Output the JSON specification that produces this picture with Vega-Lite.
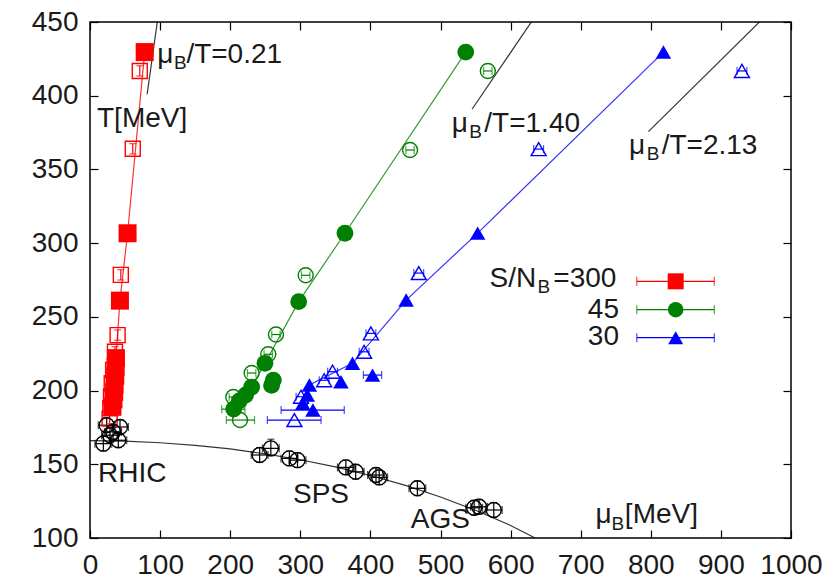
{
  "$schema": "https://vega.github.io/schema/vega-lite/v6.json",
  "width": 701,
  "height": 516,
  "autosize": {"type": "none"},
  "padding": {"left": 90, "top": 22, "right": 43, "bottom": 45},
  "background": "white",
  "config": {
    "view": {"stroke": "#000000", "strokeWidth": 1.5},
    "axis": {
      "grid": false,
      "domain": false,
      "labelFont": "Liberation Sans",
      "labelFontSize": 28,
      "labelColor": "#1a1a1a",
      "labelFlush": false,
      "labelOverlap": false,
      "format": "d",
      "tickColor": "#000000",
      "tickSize": -8,
      "tickWidth": 1.2
    },
    "text": {"font": "Liberation Sans", "color": "#1a1a1a"}
  },
  "datasets": {
    "pts": [
      {"set": "S300", "kind": "filled", "mu": 78, "T": 429.6},
      {"set": "S300", "kind": "filled", "mu": 53.6, "T": 306.7},
      {"set": "S300", "kind": "filled", "mu": 42.7, "T": 261},
      {"set": "S300", "kind": "filled", "mu": 37, "T": 222},
      {"set": "S300", "kind": "filled", "mu": 36.5, "T": 216},
      {"set": "S300", "kind": "filled", "mu": 36, "T": 210},
      {"set": "S300", "kind": "filled", "mu": 35, "T": 204},
      {"set": "S300", "kind": "filled", "mu": 34.5, "T": 199},
      {"set": "S300", "kind": "filled", "mu": 33.5, "T": 194},
      {"set": "S300", "kind": "filled", "mu": 32, "T": 189},
      {"set": "S300", "kind": "open", "mu": 71, "T": 416.8, "Tlo": 413.3, "Thi": 420.3},
      {"set": "S300", "kind": "open", "mu": 61, "T": 364, "Tlo": 360.5, "Thi": 367.5},
      {"set": "S300", "kind": "open", "mu": 44, "T": 278.5, "Tlo": 275, "Thi": 282},
      {"set": "S300", "kind": "open", "mu": 39.4, "T": 237.6, "Tlo": 234.1, "Thi": 241.1},
      {"set": "S300", "kind": "open", "mu": 35.6, "T": 226.3, "Tlo": 222.8, "Thi": 229.8},
      {"set": "S300", "kind": "open", "mu": 33, "T": 214, "Tlo": 210.5, "Thi": 217.5},
      {"set": "S300", "kind": "open", "mu": 31, "T": 205, "Tlo": 201.5, "Thi": 208.5},
      {"set": "S300", "kind": "open", "mu": 30, "T": 196, "Tlo": 192.5, "Thi": 199.5},
      {"set": "S300", "kind": "open", "mu": 29, "T": 188, "Tlo": 184.5, "Thi": 191.5},
      {"set": "S300", "kind": "open", "mu": 28, "T": 181, "Tlo": 177.5, "Thi": 184.5},

      {"set": "S45", "kind": "filled", "mu": 536, "T": 429.6},
      {"set": "S45", "kind": "filled", "mu": 363.7, "T": 306.7},
      {"set": "S45", "kind": "filled", "mu": 297.7, "T": 260.3},
      {"set": "S45", "kind": "filled", "mu": 249.6, "T": 218.5},
      {"set": "S45", "kind": "filled", "mu": 261.5, "T": 207},
      {"set": "S45", "kind": "filled", "mu": 259, "T": 203.5},
      {"set": "S45", "kind": "filled", "mu": 230.6, "T": 202.4},
      {"set": "S45", "kind": "filled", "mu": 222, "T": 197},
      {"set": "S45", "kind": "filled", "mu": 213, "T": 193},
      {"set": "S45", "kind": "filled", "mu": 205, "T": 187.4, "mulo": 188, "muhi": 221},
      {"set": "S45", "kind": "open", "mu": 567.5, "T": 416.8, "mulo": 561.5, "muhi": 573.5},
      {"set": "S45", "kind": "open", "mu": 456.6, "T": 363.2, "mulo": 450.6, "muhi": 462.6},
      {"set": "S45", "kind": "open", "mu": 307.7, "T": 278.2, "mulo": 301.7, "muhi": 313.7},
      {"set": "S45", "kind": "open", "mu": 265.3, "T": 238, "mulo": 259.3, "muhi": 271.3},
      {"set": "S45", "kind": "open", "mu": 254.3, "T": 224.6, "mulo": 248.3, "muhi": 260.3},
      {"set": "S45", "kind": "open", "mu": 230.6, "T": 211.9, "mulo": 224.6, "muhi": 236.6},
      {"set": "S45", "kind": "open", "mu": 204.4, "T": 195.6, "mulo": 198.4, "muhi": 210.4},
      {"set": "S45", "kind": "open", "mu": 214, "T": 180, "mulo": 194.5, "muhi": 234.7},

      {"set": "S30", "kind": "filled", "mu": 818, "T": 429.6},
      {"set": "S30", "kind": "filled", "mu": 553, "T": 306.8},
      {"set": "S30", "kind": "filled", "mu": 451, "T": 261.4},
      {"set": "S30", "kind": "filled", "mu": 374.5, "T": 218.5},
      {"set": "S30", "kind": "filled", "mu": 403, "T": 210.5, "mulo": 390, "muhi": 416},
      {"set": "S30", "kind": "filled", "mu": 358, "T": 206},
      {"set": "S30", "kind": "filled", "mu": 313, "T": 203.8},
      {"set": "S30", "kind": "filled", "mu": 310, "T": 197},
      {"set": "S30", "kind": "filled", "mu": 303.5, "T": 191.4},
      {"set": "S30", "kind": "filled", "mu": 318, "T": 186.8, "mulo": 272.6, "muhi": 362.7},
      {"set": "S30", "kind": "open", "mu": 930, "T": 416.8, "mulo": 923, "muhi": 937},
      {"set": "S30", "kind": "open", "mu": 640, "T": 363.8, "mulo": 633, "muhi": 647},
      {"set": "S30", "kind": "open", "mu": 469, "T": 279.7, "mulo": 462, "muhi": 476},
      {"set": "S30", "kind": "open", "mu": 400.7, "T": 238.8, "mulo": 393.7, "muhi": 407.7},
      {"set": "S30", "kind": "open", "mu": 391, "T": 226.3, "mulo": 384, "muhi": 398},
      {"set": "S30", "kind": "open", "mu": 346, "T": 212.8, "mulo": 339, "muhi": 353},
      {"set": "S30", "kind": "open", "mu": 334, "T": 207, "mulo": 327, "muhi": 341},
      {"set": "S30", "kind": "open", "mu": 301, "T": 195.8, "mulo": 294, "muhi": 308},
      {"set": "S30", "kind": "open", "mu": 291.6, "T": 180, "mulo": 253, "muhi": 329.6},

      {"set": "FO", "kind": "open", "mu": 23.8, "T": 176.5, "mulo": 11.8, "muhi": 35.8, "Tlo": 171.5, "Thi": 181.5},
      {"set": "FO", "kind": "open", "mu": 42.8, "T": 175.3, "mulo": 30.8, "muhi": 54.8, "Tlo": 170.3, "Thi": 180.3},
      {"set": "FO", "kind": "open", "mu": 19, "T": 164, "mulo": 7, "muhi": 31, "Tlo": 159, "Thi": 169},
      {"set": "FO", "kind": "open", "mu": 28.5, "T": 169.7, "mulo": 16.5, "muhi": 40.5, "Tlo": 164.7, "Thi": 174.7},
      {"set": "FO", "kind": "open", "mu": 40.4, "T": 166.3, "mulo": 28.4, "muhi": 52.4, "Tlo": 161.3, "Thi": 171.3},
      {"set": "FO", "kind": "open", "mu": 33, "T": 172, "mulo": 21, "muhi": 45, "Tlo": 167, "Thi": 177},
      {"set": "FO", "kind": "open", "mu": 242, "T": 156.3, "mulo": 230, "muhi": 254, "Tlo": 151.3, "Thi": 161.3},
      {"set": "FO", "kind": "open", "mu": 258, "T": 160.8, "mulo": 246, "muhi": 270, "Tlo": 155.8, "Thi": 167},
      {"set": "FO", "kind": "open", "mu": 284.5, "T": 154, "mulo": 272.5, "muhi": 296.5, "Tlo": 149, "Thi": 159},
      {"set": "FO", "kind": "open", "mu": 296, "T": 152.8, "mulo": 284, "muhi": 308, "Tlo": 147.8, "Thi": 157.8},
      {"set": "FO", "kind": "open", "mu": 365, "T": 147.9, "mulo": 353, "muhi": 377, "Tlo": 142.9, "Thi": 152.9},
      {"set": "FO", "kind": "open", "mu": 379, "T": 144.9, "mulo": 367, "muhi": 391, "Tlo": 139.9, "Thi": 149.9},
      {"set": "FO", "kind": "open", "mu": 408, "T": 142.7, "mulo": 396, "muhi": 420, "Tlo": 137.7, "Thi": 147.7},
      {"set": "FO", "kind": "open", "mu": 412.5, "T": 141.1, "mulo": 400.5, "muhi": 424.5, "Tlo": 136.1, "Thi": 146.1},
      {"set": "FO", "kind": "open", "mu": 467, "T": 133.7, "mulo": 455, "muhi": 479, "Tlo": 128.7, "Thi": 138.7},
      {"set": "FO", "kind": "open", "mu": 548, "T": 120.5, "mulo": 536, "muhi": 560, "Tlo": 115.5, "Thi": 125.5},
      {"set": "FO", "kind": "open", "mu": 555, "T": 121.2, "mulo": 543, "muhi": 567, "Tlo": 116.2, "Thi": 126.2},
      {"set": "FO", "kind": "open", "mu": 576, "T": 119, "mulo": 564, "muhi": 588, "Tlo": 114, "Thi": 124}
    ],
    "paths": [
      {"set": "S300", "mu": 32, "T": 189},
      {"set": "S300", "mu": 33.5, "T": 194},
      {"set": "S300", "mu": 34.5, "T": 199},
      {"set": "S300", "mu": 35, "T": 204},
      {"set": "S300", "mu": 36, "T": 210},
      {"set": "S300", "mu": 36.5, "T": 216},
      {"set": "S300", "mu": 37, "T": 222},
      {"set": "S300", "mu": 42.7, "T": 261},
      {"set": "S300", "mu": 53.6, "T": 306.7},
      {"set": "S300", "mu": 78, "T": 429.6},
      {"set": "S45", "mu": 205, "T": 187.4},
      {"set": "S45", "mu": 213, "T": 193},
      {"set": "S45", "mu": 222, "T": 197},
      {"set": "S45", "mu": 230.6, "T": 202.4},
      {"set": "S45", "mu": 249.6, "T": 218.5},
      {"set": "S45", "mu": 297.7, "T": 260.3},
      {"set": "S45", "mu": 363.7, "T": 306.7},
      {"set": "S45", "mu": 536, "T": 429.6},
      {"set": "S30", "mu": 310, "T": 190},
      {"set": "S30", "mu": 313, "T": 203.8},
      {"set": "S30", "mu": 374.5, "T": 218.5},
      {"set": "S30", "mu": 451, "T": 261.4},
      {"set": "S30", "mu": 553, "T": 306.8},
      {"set": "S30", "mu": 818, "T": 429.6},
      {"set": "FO", "mu": 0, "T": 166},
      {"set": "FO", "mu": 50, "T": 165.7},
      {"set": "FO", "mu": 100, "T": 164.6},
      {"set": "FO", "mu": 150, "T": 162.8},
      {"set": "FO", "mu": 200, "T": 160.4},
      {"set": "FO", "mu": 250, "T": 157.1},
      {"set": "FO", "mu": 300, "T": 153.1},
      {"set": "FO", "mu": 350, "T": 148.2},
      {"set": "FO", "mu": 400, "T": 142.4},
      {"set": "FO", "mu": 450, "T": 135.7},
      {"set": "FO", "mu": 500, "T": 127.8},
      {"set": "FO", "mu": 550, "T": 118.8},
      {"set": "FO", "mu": 600, "T": 108.5},
      {"set": "FO", "mu": 635, "T": 100},
      {"set": "r021", "mu": 81.5, "T": 401},
      {"set": "r021", "mu": 96, "T": 450},
      {"set": "r140", "mu": 545, "T": 390.8},
      {"set": "r140", "mu": 631, "T": 451},
      {"set": "r213", "mu": 796.6, "T": 375.6},
      {"set": "r213", "mu": 956, "T": 450.5}
    ],
    "key": [
      {"set": "S300", "mu": 835.5, "T": 274.1, "lo": 780, "hi": 890.6},
      {"set": "S45", "mu": 835.5, "T": 254.9, "lo": 780, "hi": 890.6},
      {"set": "S30", "mu": 835.5, "T": 235.9, "lo": 780, "hi": 890.6}
    ],
    "notes": [
      {"mu": 96.0, "T": 422.0, "label": "μ"},
      {"mu": 137.5, "T": 422.0, "label": "/T=0.21"},
      {"mu": 10.0, "T": 378.6, "label": "T[MeV]"},
      {"mu": 516.0, "T": 375.4, "label": "μ"},
      {"mu": 562.5, "T": 375.4, "label": "/T=1.40"},
      {"mu": 768.9, "T": 360.7, "label": "μ"},
      {"mu": 815.5, "T": 360.7, "label": "/T=2.13"},
      {"mu": 11.4, "T": 138.0, "label": "RHIC"},
      {"mu": 289.6, "T": 123.7, "label": "SPS"},
      {"mu": 457.5, "T": 106.6, "label": "AGS"},
      {"mu": 721.0, "T": 110.2, "label": "μ"},
      {"mu": 763.0, "T": 110.2, "label": "[MeV]"},
      {"mu": 570.0, "T": 270.3, "label": "S/N"},
      {"mu": 661.0, "T": 270.3, "label": "=300"}
    ],
    "notesRight": [
      {"mu": 754.6, "T": 249.5, "label": "45"},
      {"mu": 754.6, "T": 230.7, "label": "30"}
    ],
    "subs": [
      {"mu": 120.0, "T": 417.9, "label": "B"},
      {"mu": 541.1, "T": 371.3, "label": "B"},
      {"mu": 794.2, "T": 356.7, "label": "B"},
      {"mu": 744.0, "T": 105.7, "label": "B"},
      {"mu": 638.5, "T": 266.0, "label": "B"}
    ]
  },
  "resolve": {"scale": {"size": "independent"}},
  "layer": [
    {
      "data": {"name": "paths"},
      "mark": {"type": "line", "strokeWidth": 1.2, "opacity": 0.8, "clip": true},
      "encoding": {
        "x": {"field": "mu", "type": "quantitative", "scale": {"domain": [0, 1000], "nice": false, "zero": false},
              "axis": {"orient": "bottom", "title": null, "values": [0, 100, 200, 300, 400, 500, 600, 700, 800, 900, 1000], "labelPadding": 21}},
        "y": {"field": "T", "type": "quantitative", "scale": {"domain": [100, 450], "nice": false, "zero": false},
              "axis": {"orient": "left", "title": null, "values": [100, 150, 200, 250, 300, 350, 400, 450], "labelPadding": 20}},
        "detail": {"field": "set"},
        "order": {"field": "T", "type": "quantitative"},
        "color": {"field": "set", "type": "nominal", "legend": null,
                  "scale": {"domain": ["S300", "S45", "S30", "FO", "r021", "r140", "r213"], "range": ["#ff0000", "#008000", "#0000ff", "#000000", "#000000", "#000000", "#000000"]}}
      }
    },
    {
      "data": {"name": "pts"},
      "transform": [{"filter": "isValid(datum.mulo)"}],
      "mark": {"type": "rule", "strokeWidth": 1.2},
      "encoding": {
        "x": {"field": "mulo", "type": "quantitative", "axis": null},
        "x2": {"field": "muhi"},
        "y": {"field": "T", "type": "quantitative", "axis": null},
        "color": {"field": "set", "type": "nominal", "legend": null,
                  "scale": {"domain": ["S300", "S45", "S30", "FO", "r021", "r140", "r213"], "range": ["#ff0000", "#008000", "#0000ff", "#000000", "#000000", "#000000", "#000000"]}}
      }
    },
    {
      "data": {"name": "pts"},
      "transform": [{"filter": "isValid(datum.mulo)"}],
      "mark": {"type": "tick", "orient": "vertical", "size": 8, "thickness": 1.2},
      "encoding": {
        "x": {"field": "mulo", "type": "quantitative", "axis": null},
        "y": {"field": "T", "type": "quantitative", "axis": null},
        "color": {"field": "set", "type": "nominal", "legend": null,
                  "scale": {"domain": ["S300", "S45", "S30", "FO", "r021", "r140", "r213"], "range": ["#ff0000", "#008000", "#0000ff", "#000000", "#000000", "#000000", "#000000"]}}
      }
    },
    {
      "data": {"name": "pts"},
      "transform": [{"filter": "isValid(datum.muhi)"}],
      "mark": {"type": "tick", "orient": "vertical", "size": 8, "thickness": 1.2},
      "encoding": {
        "x": {"field": "muhi", "type": "quantitative", "axis": null},
        "y": {"field": "T", "type": "quantitative", "axis": null},
        "color": {"field": "set", "type": "nominal", "legend": null,
                  "scale": {"domain": ["S300", "S45", "S30", "FO", "r021", "r140", "r213"], "range": ["#ff0000", "#008000", "#0000ff", "#000000", "#000000", "#000000", "#000000"]}}
      }
    },
    {
      "data": {"name": "pts"},
      "transform": [{"filter": "isValid(datum.Tlo)"}],
      "mark": {"type": "rule", "strokeWidth": 1.2},
      "encoding": {
        "x": {"field": "mu", "type": "quantitative", "axis": null},
        "y": {"field": "Tlo", "type": "quantitative", "axis": null},
        "y2": {"field": "Thi"},
        "color": {"field": "set", "type": "nominal", "legend": null,
                  "scale": {"domain": ["S300", "S45", "S30", "FO", "r021", "r140", "r213"], "range": ["#ff0000", "#008000", "#0000ff", "#000000", "#000000", "#000000", "#000000"]}}
      }
    },
    {
      "data": {"name": "pts"},
      "transform": [{"filter": "isValid(datum.Tlo)"}],
      "mark": {"type": "tick", "orient": "horizontal", "size": 7, "thickness": 1.2},
      "encoding": {
        "x": {"field": "mu", "type": "quantitative", "axis": null},
        "y": {"field": "Tlo", "type": "quantitative", "axis": null},
        "color": {"field": "set", "type": "nominal", "legend": null,
                  "scale": {"domain": ["S300", "S45", "S30", "FO", "r021", "r140", "r213"], "range": ["#ff0000", "#008000", "#0000ff", "#000000", "#000000", "#000000", "#000000"]}}
      }
    },
    {
      "data": {"name": "pts"},
      "transform": [{"filter": "isValid(datum.Thi)"}],
      "mark": {"type": "tick", "orient": "horizontal", "size": 7, "thickness": 1.2},
      "encoding": {
        "x": {"field": "mu", "type": "quantitative", "axis": null},
        "y": {"field": "Thi", "type": "quantitative", "axis": null},
        "color": {"field": "set", "type": "nominal", "legend": null,
                  "scale": {"domain": ["S300", "S45", "S30", "FO", "r021", "r140", "r213"], "range": ["#ff0000", "#008000", "#0000ff", "#000000", "#000000", "#000000", "#000000"]}}
      }
    },
    {
      "data": {"name": "pts"},
      "transform": [{"filter": "datum.kind === 'filled'"}],
      "mark": {"type": "point", "filled": true, "opacity": 1},
      "encoding": {
        "x": {"field": "mu", "type": "quantitative", "axis": null},
        "y": {"field": "T", "type": "quantitative", "axis": null},
        "shape": {"field": "set", "type": "nominal", "legend": null,
                  "scale": {"domain": ["S300", "S45", "S30", "FO"], "range": ["square", "circle", "triangle-up", "circle"]}},
        "size": {"field": "set", "type": "nominal", "legend": null,
                 "scale": {"domain": ["S300", "S45", "S30"], "range": [324, 240, 256]}},
        "color": {"field": "set", "type": "nominal", "legend": null,
                  "scale": {"domain": ["S300", "S45", "S30", "FO", "r021", "r140", "r213"], "range": ["#ff0000", "#008000", "#0000ff", "#000000", "#000000", "#000000", "#000000"]}}
      }
    },
    {
      "data": {"name": "pts"},
      "transform": [{"filter": "datum.kind === 'open'"}],
      "mark": {"type": "point", "filled": false, "strokeWidth": 1.4, "opacity": 1},
      "encoding": {
        "x": {"field": "mu", "type": "quantitative", "axis": null},
        "y": {"field": "T", "type": "quantitative", "axis": null},
        "shape": {"field": "set", "type": "nominal", "legend": null,
                  "scale": {"domain": ["S300", "S45", "S30", "FO"], "range": ["square", "circle", "triangle-up", "circle"]}},
        "size": {"field": "set", "type": "nominal", "legend": null,
                 "scale": {"domain": ["S300", "S45", "S30", "FO"], "range": [225, 225, 200, 225]}},
        "color": {"field": "set", "type": "nominal", "legend": null,
                  "scale": {"domain": ["S300", "S45", "S30", "FO", "r021", "r140", "r213"], "range": ["#ff0000", "#008000", "#0000ff", "#000000", "#000000", "#000000", "#000000"]}}
      }
    },
    {
      "data": {"name": "key"},
      "mark": {"type": "rule", "strokeWidth": 1.2},
      "encoding": {
        "x": {"field": "lo", "type": "quantitative", "axis": null},
        "x2": {"field": "hi"},
        "y": {"field": "T", "type": "quantitative", "axis": null},
        "color": {"field": "set", "type": "nominal", "legend": null,
                  "scale": {"domain": ["S300", "S45", "S30", "FO", "r021", "r140", "r213"], "range": ["#ff0000", "#008000", "#0000ff", "#000000", "#000000", "#000000", "#000000"]}}
      }
    },
    {
      "data": {"name": "key"},
      "mark": {"type": "tick", "orient": "vertical", "size": 9, "thickness": 1.2},
      "encoding": {
        "x": {"field": "lo", "type": "quantitative", "axis": null},
        "y": {"field": "T", "type": "quantitative", "axis": null},
        "color": {"field": "set", "type": "nominal", "legend": null,
                  "scale": {"domain": ["S300", "S45", "S30", "FO", "r021", "r140", "r213"], "range": ["#ff0000", "#008000", "#0000ff", "#000000", "#000000", "#000000", "#000000"]}}
      }
    },
    {
      "data": {"name": "key"},
      "mark": {"type": "tick", "orient": "vertical", "size": 9, "thickness": 1.2},
      "encoding": {
        "x": {"field": "hi", "type": "quantitative", "axis": null},
        "y": {"field": "T", "type": "quantitative", "axis": null},
        "color": {"field": "set", "type": "nominal", "legend": null,
                  "scale": {"domain": ["S300", "S45", "S30", "FO", "r021", "r140", "r213"], "range": ["#ff0000", "#008000", "#0000ff", "#000000", "#000000", "#000000", "#000000"]}}
      }
    },
    {
      "data": {"name": "key"},
      "mark": {"type": "point", "filled": true, "opacity": 1},
      "encoding": {
        "x": {"field": "mu", "type": "quantitative", "axis": null},
        "y": {"field": "T", "type": "quantitative", "axis": null},
        "shape": {"field": "set", "type": "nominal", "legend": null,
                  "scale": {"domain": ["S300", "S45", "S30", "FO"], "range": ["square", "circle", "triangle-up", "circle"]}},
        "size": {"field": "set", "type": "nominal", "legend": null,
                 "scale": {"domain": ["S300", "S45", "S30"], "range": [256, 225, 169]}},
        "color": {"field": "set", "type": "nominal", "legend": null,
                  "scale": {"domain": ["S300", "S45", "S30", "FO", "r021", "r140", "r213"], "range": ["#ff0000", "#008000", "#0000ff", "#000000", "#000000", "#000000", "#000000"]}}
      }
    },
    {
      "data": {"name": "notes"},
      "mark": {"type": "text", "align": "left", "baseline": "alphabetic", "fontSize": 28},
      "encoding": {
        "x": {"field": "mu", "type": "quantitative",
              "axis": {"orient": "top", "title": null, "labels": false, "values": [0, 100, 200, 300, 400, 500, 600, 700, 800, 900, 1000]}},
        "y": {"field": "T", "type": "quantitative",
              "axis": {"orient": "right", "title": null, "labels": false, "values": [100, 150, 200, 250, 300, 350, 400, 450]}},
        "text": {"field": "label"}
      }
    },
    {
      "data": {"name": "notesRight"},
      "mark": {"type": "text", "align": "right", "baseline": "alphabetic", "fontSize": 28},
      "encoding": {
        "x": {"field": "mu", "type": "quantitative", "axis": null},
        "y": {"field": "T", "type": "quantitative", "axis": null},
        "text": {"field": "label"}
      }
    },
    {
      "data": {"name": "subs"},
      "mark": {"type": "text", "align": "left", "baseline": "alphabetic", "fontSize": 19},
      "encoding": {
        "x": {"field": "mu", "type": "quantitative", "axis": null},
        "y": {"field": "T", "type": "quantitative", "axis": null},
        "text": {"field": "label"}
      }
    }
  ]
}
